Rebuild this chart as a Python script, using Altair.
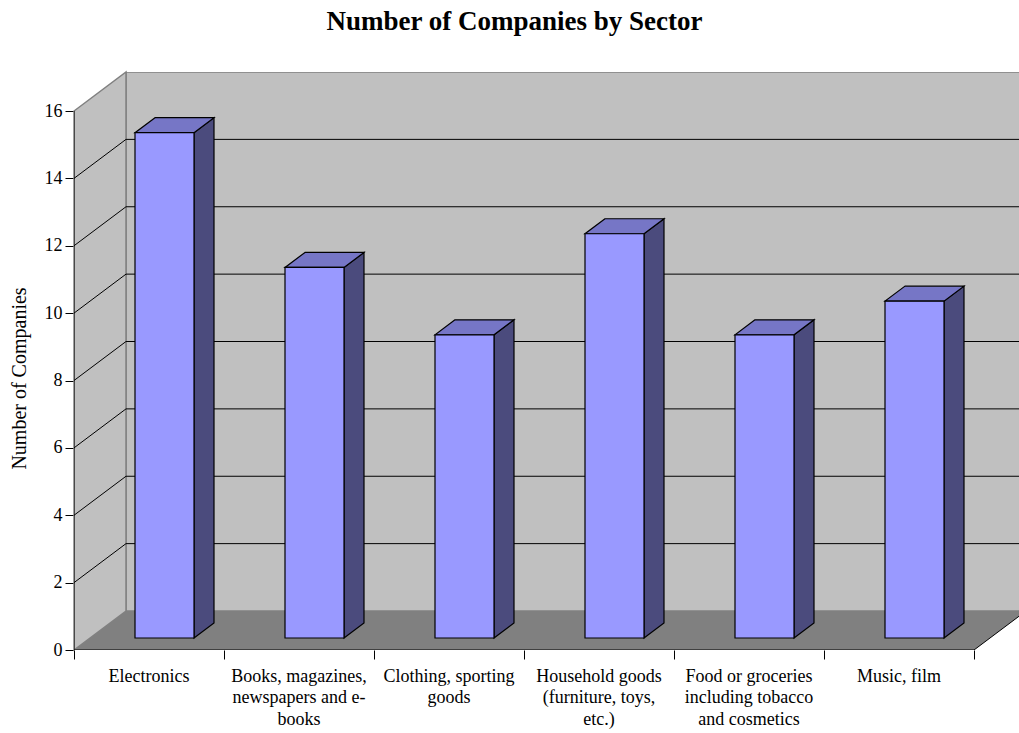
import altair as alt
import pandas as pd

categories = ["Electronics", "Books, magazines,\nnewspapers and e-\nbooks",
              "Clothing, sporting\ngoods", "Household goods\n(furniture, toys,\netc.)",
              "Food or groceries\nincluding tobacco\nand cosmetics", "Music, film"]
values = [15, 11, 9, 12, 9, 10]
y_ticks = [0, 2, 4, 6, 8, 10, 12, 14, 16]

# geometry (data units)
W, H = 945, 578
PX_X = 150.0
PX_Y = 539.0 / 16
XMAX = W / PX_X
YMAX = H / PX_Y
DX = 52 / PX_X          # wall depth
DY = 39 / PX_Y
BL, BR = 61 / PX_X, 120 / PX_X   # bar front face left/right within band
FY = 12 / PX_Y          # bar front-face lift
BDX = 20 / PX_X         # bar depth
BDY = 15 / PX_Y
N = len(categories)
FONT = "Liberation Serif"

xs = alt.Scale(domain=[0, XMAX], nice=False, zero=False)
ys = alt.Scale(domain=[0, YMAX], nice=False, zero=False)
AX_Y = alt.Axis(values=y_ticks, title="Number of Companies", domain=False,
                grid=False, tickSize=9, tickColor="black", labelFont=FONT,
                labelFontSize=18, labelColor="black", labelPadding=3,
                titleFont=FONT, titleFontSize=20, titleFontWeight="normal",
                titleColor="black", titleX=-49, titleY=306,
                titleAlign="center", titleBaseline="alphabetic", titleAngle=270)
AX_X = alt.Axis(values=list(range(N + 1)), title=None, labels=False,
                domain=False, grid=False, tickSize=9, tickColor="black")


def X(f):
    return alt.X(f, scale=xs, axis=AX_X)


def Y(f):
    return alt.Y(f, scale=ys, axis=AX_Y)


# ---- walls
floor_df = pd.DataFrame({"y": [0, DY], "x": [0, DX], "x2": [N, N + DX]})
floor = alt.Chart(floor_df).mark_area(orient="horizontal", color="#808080", clip=True).encode(
    y=Y("y:Q"), x=X("x:Q"), x2="x2:Q")

back_df = pd.DataFrame({"x": [DX], "x2": [N + DX], "y": [DY], "y2": [16 + DY]})
back = alt.Chart(back_df).mark_rect(fill="#C0C0C0", stroke="#808080", strokeWidth=1.5, clip=True).encode(
    x=X("x:Q"), x2="x2:Q", y=Y("y:Q"), y2="y2:Q")

side_df = pd.DataFrame({"x": [0, DX], "y": [0, DY], "y2": [16, 16 + DY]})
side = alt.Chart(side_df).mark_area(fill="#C0C0C0", stroke="#808080", strokeWidth=1.5).encode(
    x=X("x:Q"), y=Y("y:Q"), y2="y2:Q")

# ---- gridlines
gvals = [v for v in y_ticks if 0 < v < 16]
grid_df = pd.DataFrame({"v": gvals})
grid_df["yb"] = grid_df["v"] + DY
grid_df["x0"] = 0.0
grid_df["xb"] = DX
grid_df["xe"] = N + DX
grid_back = alt.Chart(grid_df).mark_rule(color="black", strokeWidth=1, clip=True).encode(
    x=X("xb:Q"), x2="xe:Q", y=Y("yb:Q"))
grid_side = alt.Chart(grid_df).mark_rule(color="black", strokeWidth=1).encode(
    x=X("x0:Q"), x2="xb:Q", y=Y("v:Q"), y2="yb:Q")

# ---- axis lines
axes_df = pd.DataFrame({"x": [0, 0, N], "x2": [0, N, N + DX], "y": [0, 0, 0], "y2": [16, 0, DY]})
axis_lines = alt.Chart(axes_df).mark_rule(color="black", strokeWidth=1, clip=True).encode(
    x=X("x:Q"), x2="x2:Q", y=Y("y:Q"), y2="y2:Q")

# ---- bars
bars = pd.DataFrame({"cat": categories, "i": range(N), "v": values})
front_df = bars.assign(x=bars.i + BL, x2=bars.i + BR, y=FY, y2=bars.v + FY)
rows_top, rows_side = [], []
for i, v in zip(range(N), values):
    rows_top.append({"i": i, "y": v + FY, "x": i + BL, "x2": i + BR})
    rows_top.append({"i": i, "y": v + FY + BDY, "x": i + BL + BDX, "x2": i + BR + BDX})
    rows_side.append({"i": i, "x": i + BR, "y": FY, "y2": v + FY})
    rows_side.append({"i": i, "x": i + BR + BDX, "y": FY + BDY, "y2": v + FY + BDY})
top_df = pd.DataFrame(rows_top)
sidef_df = pd.DataFrame(rows_side)

bar_side = alt.Chart(sidef_df).mark_area(fill="#4B4B7D", stroke="black", strokeWidth=1.2).encode(
    x=X("x:Q"), y=Y("y:Q"), y2="y2:Q", detail="i:N")
bar_top = alt.Chart(top_df).mark_area(orient="horizontal", fill="#7676C6", stroke="black",
                                      strokeWidth=1.2).encode(
    y=Y("y:Q"), x=X("x:Q"), x2="x2:Q", detail="i:N")
bar_front = alt.Chart(front_df).mark_rect(fill="#9999FF", stroke="black", strokeWidth=1.2).encode(
    x=X("x:Q"), x2="x2:Q", y=Y("y:Q"), y2="y2:Q")

# ---- category labels
lab_df = bars.assign(xc=bars.i + 0.5)
labels = alt.Chart(lab_df).mark_text(font=FONT, fontSize=18, color="black", align="center",
                                     baseline="alphabetic", lineBreak="\n", lineHeight=21.5).encode(
    x=X("xc:Q"),
    y=alt.value(H + 31.7),
    text="cat:N")

chart = alt.layer(floor, back, side, grid_back, grid_side, axis_lines,
                  bar_side, bar_top, bar_front, labels).properties(
    width=W, height=H,
    title=alt.TitleParams("Number of Companies by Sector", font=FONT, fontSize=27, fontWeight="bold",
                          color="black", anchor="middle", frame="group", baseline="alphabetic",
                          offset=12, dx=-32),
    autosize=alt.AutoSizeParams(type="none"),
    padding={"left": 74, "top": 72, "right": 0, "bottom": 83},
    background="white",
).configure_view(stroke=None)

chart.save("out.html", embed_options={"renderer": "svg", "actions": False})
